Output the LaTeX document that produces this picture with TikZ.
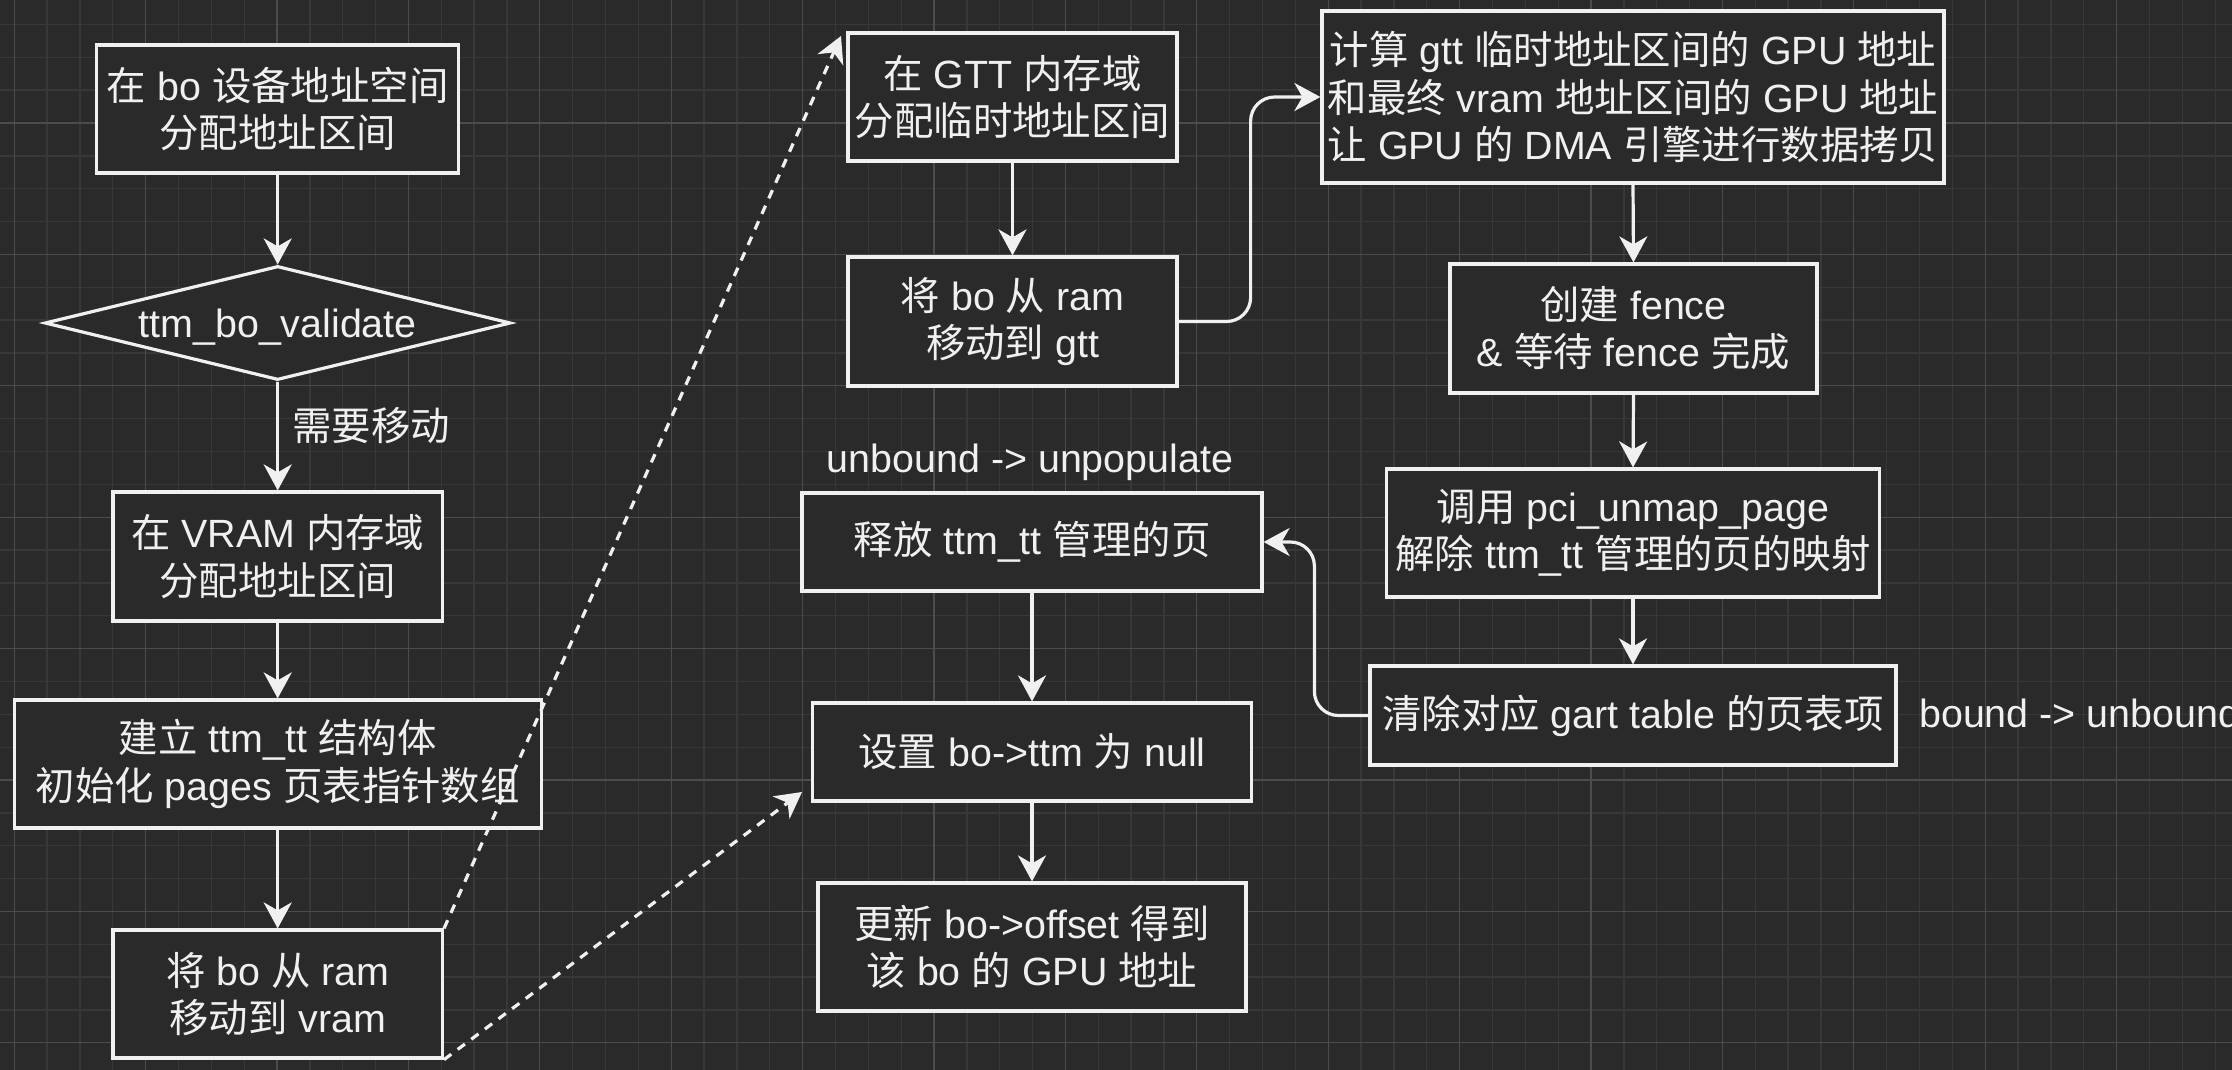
\documentclass[tikz,border=0pt]{standalone}
\usepackage{fontspec}
\setmainfont{Liberation Sans}
\newfontfamily\cjk{Noto Sans CJK SC}
\usetikzlibrary{arrows.meta,shapes.geometric}
\definecolor{bg}{HTML}{2A2A2A}
\definecolor{gminor}{HTML}{383838}
\definecolor{gmajor}{HTML}{4C4C4C}
\definecolor{fg}{HTML}{F0F0F0}
\newcommand\zh[1]{{\cjk #1}}
\begin{document}
\begin{tikzpicture}[x=1pt,y=-1pt,
  every node/.style={text=fg, font=\fontsize{39.4pt}{47.3pt}\selectfont},
  box/.style={draw=fg, line width=3.2pt, fill=bg, inner sep=0pt, align=center},
  decision/.style={diamond, draw=fg, line width=3.2pt, fill=bg, inner sep=0pt, shape aspect=4.09},
  lbl/.style={inner sep=0pt},
  conn/.style={draw=fg, line width=3.2pt, -{Stealth[length=26pt,width=28pt,inset=8pt]}},
  dconn/.style={conn, dash pattern=on 9pt off 8pt},
  gminorline/.style={draw=gminor, line width=1.3pt},
  gmajorline/.style={draw=gmajor, line width=1.3pt}]
\useasboundingbox (0,0) rectangle (2232,1070);
\fill[bg] (0,0) rectangle (2232,1070);
% grid
\foreach \i in {0,...,67} \draw[gminorline] ({14.2+32.85*\i},0) -- ++(0,1070);
\foreach \j in {1,...,32} \draw[gminorline] (0,{-8.4+32.85*\j}) -- ++(2232,0);
\foreach \i in {0,...,16} \draw[gmajorline] ({14.2+131.4*\i},0) -- ++(0,1070);
\foreach \j in {1,...,8} \draw[gmajorline] (0,{-8.4+131.4*\j}) -- ++(2232,0);

% left column
\node[box, minimum width=362pt, minimum height=128pt] (B1) at (277.7,109) {\zh{在} bo \zh{设备地址空间}\\\zh{分配地址区间}};
\node[decision, minimum width=466pt, minimum height=114pt, text depth=0pt] (D) at (277.7,323) {ttm\_bo\_validate};
\node[box, minimum width=329.5pt, minimum height=129pt] (B2) at (277.7,556.5) {\zh{在} VRAM \zh{内存域}\\\zh{分配地址区间}};
\node[box, minimum width=527pt, minimum height=128pt] (B3) at (277.7,764) {\zh{建立} ttm\_tt \zh{结构体}\\\zh{初始化} pages \zh{页表指针数组}};
\node[box, minimum width=329.5pt, minimum height=128pt] (B4) at (277.7,994) {\zh{将} bo \zh{从} ram\\\zh{移动到} vram};
\node[lbl, anchor=west] (Lmove) at (292,426) {\zh{需要移动}};

% middle column
\node[box, minimum width=329pt, minimum height=128pt] (M1) at (1012.5,97) {\zh{在} GTT \zh{内存域}\\\zh{分配临时地址区间}};
\node[box, minimum width=329pt, minimum height=129pt] (M2) at (1012.5,321.5) {\zh{将} bo \zh{从} ram\\\zh{移动到} gtt};
\node[box, minimum width=460pt, minimum height=98pt] (M3) at (1032,542) {\zh{释放} ttm\_tt \zh{管理的页}};
\node[box, minimum width=439pt, minimum height=98pt] (M4) at (1032,752) {\zh{设置} bo->ttm \zh{为} null};
\node[box, minimum width=428pt, minimum height=128pt] (M5) at (1032,947) {\zh{更新} bo->offset \zh{得到}\\\zh{该} bo \zh{的} GPU \zh{地址}};
\node[lbl, anchor=base] (Lunpop) at (1030,472) {unbound -> unpopulate};

% right column
\node[box, minimum width=622pt, minimum height=172pt] (R1) at (1633,97) {\zh{计算} gtt \zh{临时地址区间的} GPU \zh{地址}\\\zh{和最终} vram \zh{地址区间的} GPU \zh{地址}\\\zh{让} GPU \zh{的} DMA \zh{引擎进行数据拷贝}};
\node[box, minimum width=367pt, minimum height=129pt] (R2) at (1633.5,328.5) {\zh{创建} fence\\\& \zh{等待} fence \zh{完成}};
\node[box, minimum width=493pt, minimum height=128pt] (R3) at (1633,533) {\zh{调用} pci\_unmap\_page\\\zh{解除} ttm\_tt \zh{管理的页的映射}};
\node[box, minimum width=526pt, minimum height=99pt] (R4) at (1633,715.5) {\zh{清除对应} gart table \zh{的页表项}};
\node[lbl, anchor=base west] (Lunbound) at (1919,727) {bound -> unbound};

% connectors
\draw[conn] (B1.south) -- (D.north);
\draw[conn] (D.south) -- (B2.north);
\draw[conn] (B2.south) -- (B3.north);
\draw[conn] (B3.south) -- (B4.north);
\draw[conn] (M1.south) -- (M2.north);
\draw[conn, rounded corners=24pt] (M2.east) -- ++(72,0) |- (R1.west);
\draw[conn] (R1.south) -- (R2.north);
\draw[conn] (R2.south) -- (R3.north);
\draw[conn] (R3.south) -- (R4.north);
\draw[conn, rounded corners=24pt] (R4.west) -- ++(-54,0) |- (M3.east);
\draw[conn] (M3.south) -- (M4.north);
\draw[conn] (M4.south) -- (M5.north);
\coordinate (t1) at (841,36);
\coordinate (t2) at (802,792);
\draw[dconn] (B4.north east) -- (t1);
\draw[dconn] (B4.south east) -- (t2);
\end{tikzpicture}
\end{document}
